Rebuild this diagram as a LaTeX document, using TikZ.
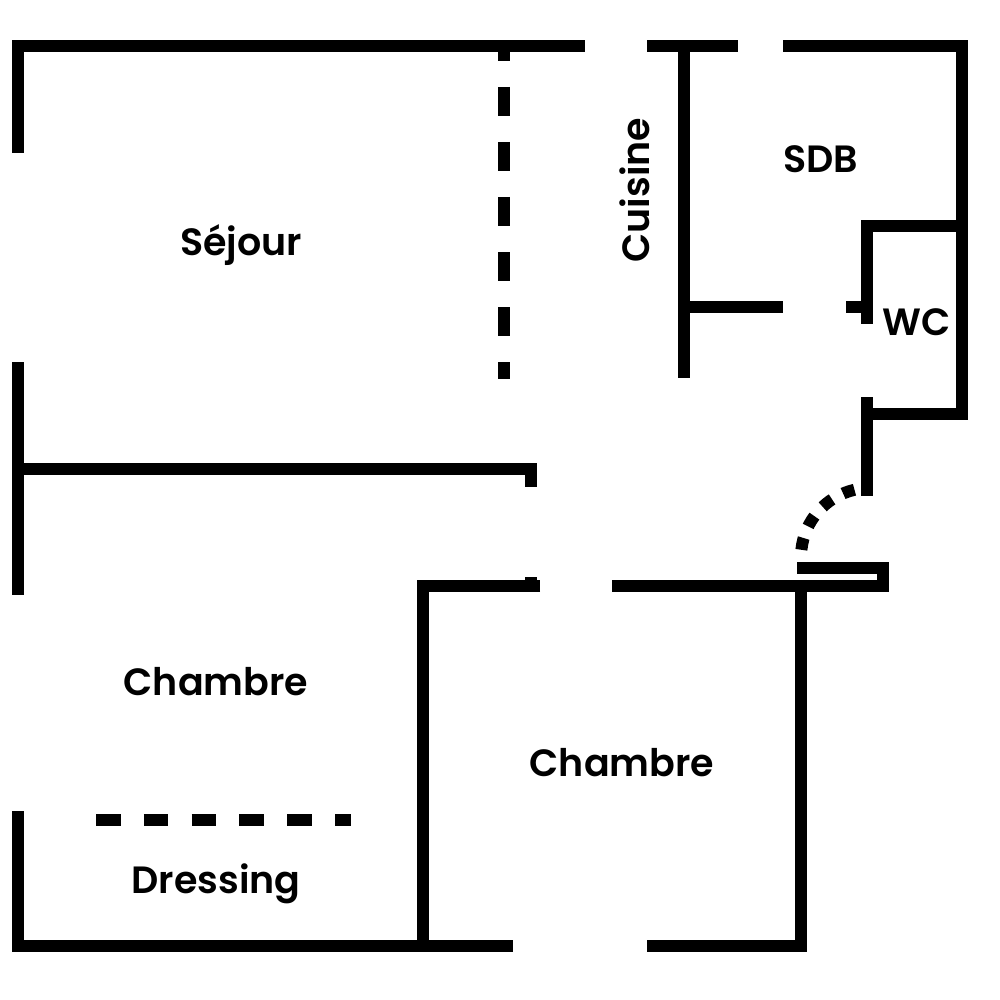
\documentclass[tikz,border=0pt]{standalone}
\usepackage{fontspec}
\setmainfont{Poppins SemiBold}
\begin{document}
\begin{tikzpicture}[x=1pt,y=-1pt,
  wall/.style={line width=12pt,line cap=butt,line join=miter},
  lbl/.style={font=\fontsize{38}{44}\selectfont, inner sep=0pt, anchor=base}]
\useasboundingbox (0,0) rectangle (1000,1000);
% top and right outer walls
\draw[wall] (18,153) -- (18,46) -- (585,46);
\draw[wall] (647,46) -- (738,46);
\draw[wall] (783,46) -- (962,46) -- (962,414) -- (867,414);
\draw[wall] (867,397) -- (867,496);
% kitchen / bathroom
\draw[wall] (684,46) -- (684,378);
\draw[wall] (684,307) -- (783,307);
\draw[wall] (962,226) -- (867,226) -- (867,324);
\draw[wall] (846,307) -- (867,307);
% living room
\draw[wall, dash pattern=on 29pt off 26pt, dash phase=20pt] (504,52) -- (504,379);
\draw[wall] (18,362) -- (18,595);
\draw[wall] (24,468.5) -- (531,468.5) -- (531,487);
% bedrooms
\draw[wall] (540,586) -- (423,586) -- (423,946);
\draw[wall] (531,577) -- (531,586);
\draw[wall] (612,586) -- (888,586);
\draw[wall] (647,946) -- (801,946) -- (801,586);
\draw[wall] (18,811) -- (18,946) -- (513,946);
\draw[wall, dash pattern=on 24.5pt off 23.3pt] (96,819.5) -- (351,819.5);
% entrance door
\draw[wall] (797,567.5) -- (882.5,567.5) -- (882.5,592);
\draw[wall, dash pattern=on 12pt off 12.5pt] ([shift={(-103:69)}]870,557) arc[start angle=-103, end angle=-174, radius=69];
% labels
\node[lbl] (sejour) at (241,255) {Séjour};
\node[lbl, rotate=90] (cuisine) at (649,190) {Cuisine};
\node[lbl] (sdb) at (821,173) {SDB};
\node[lbl] (wc) at (917,335) {WC};
\node[lbl] (ch1) at (216,695) {Chambre};
\node[lbl] (ch2) at (622,776) {Chambre};
\node[lbl] (dressing) at (216,893) {Dressing};
\end{tikzpicture}
\end{document}
